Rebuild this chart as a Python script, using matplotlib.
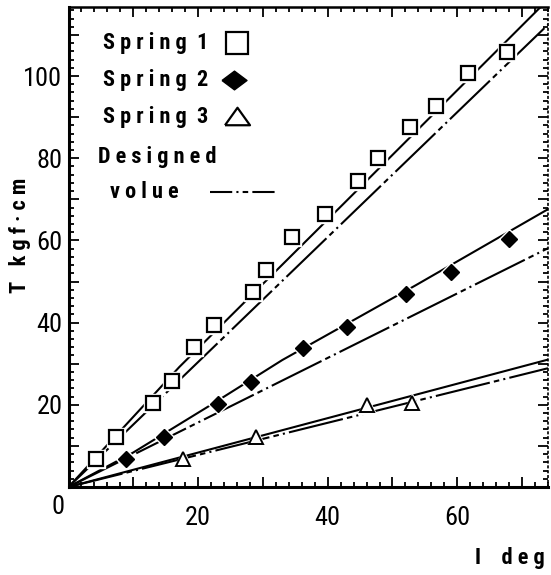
import matplotlib
matplotlib.use('Agg')
import matplotlib.pyplot as plt
from matplotlib import font_manager as fm
from matplotlib.ticker import MultipleLocator, FuncFormatter

# ---------------- data ----------------
s1_x = [4.3, 7.4, 13.0, 15.9, 19.4, 22.4, 28.4, 30.5, 34.5, 39.6, 44.7, 47.8, 52.7, 56.7, 61.7, 67.7]
s1_y = [6.8, 12.2, 20.4, 25.8, 34.1, 39.4, 47.4, 52.8, 60.8, 66.4, 74.5, 80.0, 87.6, 92.7, 100.7, 105.8]
s2_x = [8.8, 14.8, 23.0, 28.1, 36.2, 43.0, 52.1, 59.1, 68.0]
s2_y = [6.8, 12.2, 20.2, 25.5, 33.8, 38.9, 47.0, 52.3, 60.3]
s3_x = [17.7, 29.0, 46.1, 53.0]
s3_y = [6.8, 12.2, 20.0, 20.4]

# measured curves (solid)
m1_x = [0, 17.1, 42.5, 74.0]
m1_y = [0, 29.2, 69.0, 118.6]
m2_x = [0, 10.0, 22.0, 33.0, 53.6, 74.0]
m2_y = [0, 8.4, 20.0, 30.9, 49.1, 67.6]
m3_x = [0, 74.0]
m3_y = [0, 31.0]
# designed values (dash-dot)
d1_x = [0, 74.0]
d1_y = [0, 112.5]
d2_x = [0, 74.0]
d2_y = [0, 58.1]
d3_x = [0, 74.0]
d3_y = [0, 28.9]

legend_labels = ["S p r i n g  1", "S p r i n g  2", "S p r i n g  3", "D e s i g n e d", "v o l u e"]
x_ticklabels = {20: "20", 40: "40", 60: "60"}
y_ticklabels = {20: "20", 40: "40", 60: "60", 80: "80", 100: "100"}

# ---------------- fonts ----------------
def pick(names):
    for n in names:
        try:
            fm.findfont(fm.FontProperties(family=n), fallback_to_default=False)
            return n
        except Exception:
            pass
    return 'DejaVu Sans'

narrow = pick(['Liberation Sans Narrow', 'DejaVu Sans Condensed', 'Roboto Condensed', 'Liberation Sans'])
plt.rcParams['font.family'] = [narrow, 'DejaVu Sans']
plt.rcParams['lines.scale_dashes'] = False

W, H = 551, 575
fig = plt.figure(figsize=(W / 100, H / 100), dpi=100)
L, R, T, B = 68.5, 548, 7, 487
ax = fig.add_axes([L / W, 1 - B / H, (R - L) / W, (B - T) / H])
ax.set_xlim(0, 74)
ax.set_ylim(0, 116.8)

lw = 1.5
dash = (0, (40, 3, 4, 3, 1.5, 3))

ax.plot(m1_x, m1_y, color='black', lw=lw, zorder=2)
ax.plot(m2_x, m2_y, color='black', lw=lw, zorder=2)
ax.plot(m3_x, m3_y, color='black', lw=lw, zorder=2)
ax.plot(d1_x, d1_y, color='black', lw=lw, ls=dash, zorder=2)
ax.plot(d2_x, d2_y, color='black', lw=lw, ls=dash, zorder=2)
ax.plot(d3_x, d3_y, color='black', lw=lw, ls=dash, zorder=2)

# white halos so lines break at markers
ax.plot(s1_x, s1_y, ls='none', marker='s', ms=13, mfc='white', mec='white', zorder=3)
ax.plot(s2_x, s2_y, ls='none', marker='D', ms=10.5, mfc='white', mec='white', zorder=3)
ax.plot(s3_x, s3_y, ls='none', marker='^', ms=13, mfc='white', mec='white', zorder=3)

ax.plot(s1_x, s1_y, ls='none', marker='s', ms=9.5, mfc='white', mec='black', mew=1.6, zorder=4)
ax.plot(s2_x, s2_y, ls='none', marker='D', ms=7.8, mfc='black', mec='black', mew=1.0, zorder=4)
ax.plot(s3_x, s3_y, ls='none', marker='^', ms=9.5, mfc='white', mec='black', mew=1.4, zorder=4)

# ---------------- axes styling ----------------
for side in ['left', 'bottom']:
    ax.spines[side].set_linewidth(2.2)
ax.spines['top'].set_linewidth(1.8)
ax.spines['right'].set_linewidth(1.2)
ax.spines['right'].set_linestyle((0, (1, 2.5)))

ax.xaxis.set_major_locator(MultipleLocator(10))
ax.xaxis.set_minor_locator(MultipleLocator(2))
ax.yaxis.set_major_locator(MultipleLocator(10))
ax.yaxis.set_minor_locator(MultipleLocator(2))
ax.xaxis.set_major_formatter(FuncFormatter(lambda v, p: x_ticklabels.get(int(round(v)), '')))
ax.yaxis.set_major_formatter(FuncFormatter(lambda v, p: y_ticklabels.get(int(round(v)), '')))
ax.tick_params(which='both', direction='in', top=True, right=True, width=1.3, labelsize=19)
ax.tick_params(which='major', length=7.5)
ax.tick_params(which='minor', length=3.8)
ax.tick_params(axis='x', pad=14)
ax.tick_params(axis='y', pad=4.5)

fig.text(58 / W, 1 - 507 / H, "0", fontsize=19, ha='center', va='center')

# axis labels
fig.text(20 / W, 1 - 235 / H, "T   k g f · c m", rotation=90, fontsize=16, fontweight='bold',
         ha='center', va='center')
fig.text(545 / W, 1 - 558 / H, "I    d e g", fontsize=16, fontweight='bold', ha='right', va='center')

# ---------------- legend (manual) ----------------
def axf(px, py):
    return ((px - L) / (R - L), (B - py) / (B - T))

lfs = 16
for lab, (px, py) in zip(legend_labels, [(103, 43), (103, 80), (103, 117), (98, 157), (110, 192)]):
    x, y = axf(px, py)
    ax.text(x, y, lab, transform=ax.transAxes, fontsize=lfs, fontweight='bold', ha='left', va='center')

x, y = axf(237, 43)
ax.plot([x], [y], transform=ax.transAxes, marker='s', ms=16.5, mfc='white', mec='black', mew=1.6, clip_on=False)
x, y = axf(234, 80)
ax.plot([x], [y], transform=ax.transAxes, marker=[(-1, 0), (0, 0.75), (1, 0), (0, -0.75), (-1, 0)], ms=18,
        mfc='black', mec='black', clip_on=False)
x, y = axf(237, 116)
ax.plot([x], [y], transform=ax.transAxes, marker=[(-1, -0.7), (1, -0.7), (0, 0.7), (-1, -0.7)], ms=18,
        mfc='white', mec='black', mew=1.6, clip_on=False)
x0, y0 = axf(210, 192)
x1, _ = axf(278, 192)
ax.plot([x0, x1], [y0, y0], transform=ax.transAxes, color='black', lw=lw,
        ls=(0, (16, 3, 1.5, 3, 4, 3)), clip_on=False)

fig.savefig('out.png', dpi=100)
